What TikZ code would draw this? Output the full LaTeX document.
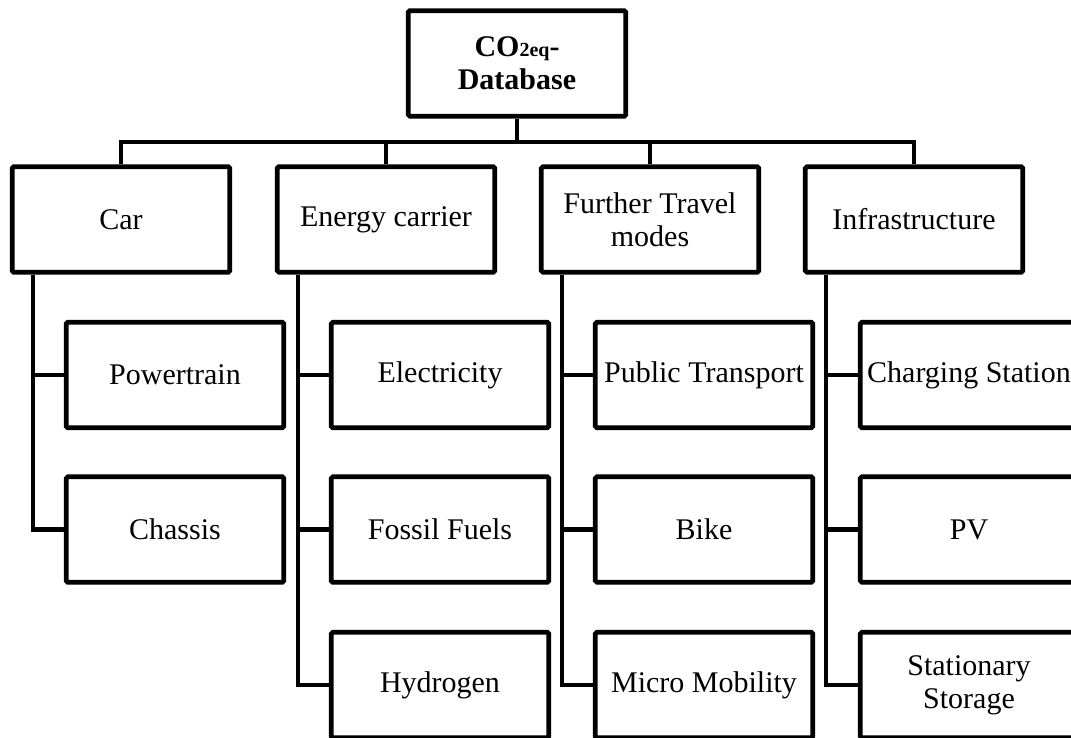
\documentclass[tikz,border=0pt]{standalone}
\usepackage{fontspec}
\setmainfont{Liberation Serif}
\usetikzlibrary{positioning,calc}

\begin{document}
\begin{tikzpicture}[
    x=1pt, y=-1pt,
    box/.style={rectangle, draw, line width=4.6pt, rounded corners=1.5pt, minimum width=217.5pt, minimum height=105.5pt, inner sep=2pt, align=center, font=\fontsize{30}{33}\selectfont},
    link/.style={line width=4.6pt}
]

% Frame of the picture
\useasboundingbox (0,0) rectangle (1071,738);
\clip (0,0) rectangle (1071,738);

% Root
\node[box, font=\fontsize{30}{33}\selectfont\bfseries] (db) at (517,63.5) {CO{\fontsize{20}{22}\selectfont 2eq}-\\Database};

% First level
\node[box] (car) at (121,219.5) {Car};
\node[box] (energy) at (386,219.5) {Energy carrier};
\node[box] (travel) at (650,219.5) {Further Travel\\modes};
\node[box] (infra) at (914,219.5) {Infrastructure};

% Car parts
\node[box] (powertrain) at (175,375) {Powertrain};
\node[box] (chassis) at (175,529.5) {Chassis};

% Energy carriers
\node[box] (electricity) at (440,375) {Electricity};
\node[box] (fossil) at (440,529.5) {Fossil Fuels};
\node[box] (hydrogen) at (440,685) {Hydrogen};

% Further travel modes
\node[box] (public) at (704,375) {Public Transport};
\node[box] (bike) at (704,529.5) {Bike};
\node[box] (micro) at (704,685) {Micro Mobility};

% Infrastructure
\node[box] (charging) at (969,375) {Charging Station};
\node[box] (pv) at (969,529.5) {PV};
\node[box] (storage) at (969,685) {Stationary\\Storage};

% Bus below the root
\coordinate (bus) at (517,142);
\draw[link] (db.south) -- (bus);
\draw[link] (car.north) |- (bus) -| (infra.north);
\foreach \n in {energy,travel} {
    \draw[link] (\n.north) -- (\n.north |- bus);
}

% Branches to the children
\foreach \p/\c in {car/powertrain,car/chassis,energy/electricity,energy/fossil,energy/hydrogen,travel/public,travel/bike,travel/micro,infra/charging,infra/pv,infra/storage} {
    \draw[link] ([xshift=23pt]\p.south west) |- (\c.west);
}

\end{tikzpicture}
\end{document}
